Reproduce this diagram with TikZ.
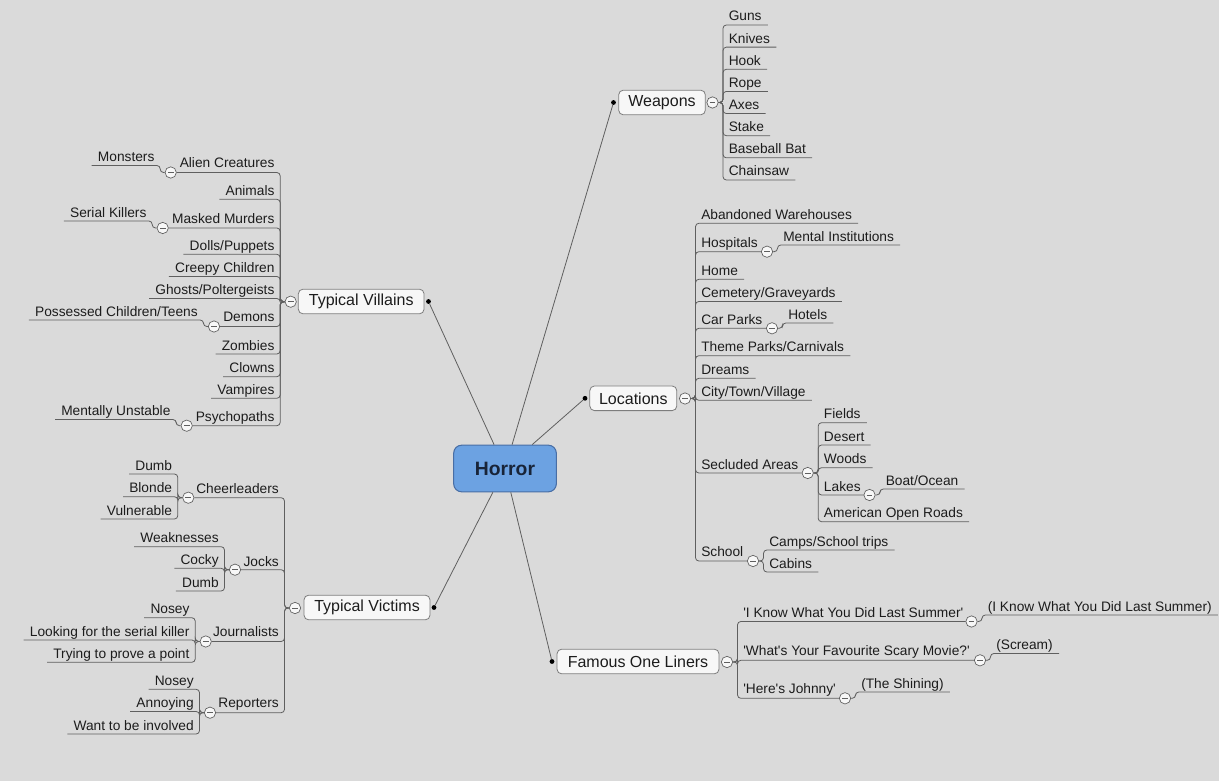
\documentclass[tikz,border=0pt]{standalone}
\usepackage{fontspec}
\newfontfamily\xmfont{Liberation Sans}
\usetikzlibrary{positioning}
\definecolor{paper}{RGB}{218,218,218}
\definecolor{ink}{RGB}{28,28,28}
\definecolor{wire}{RGB}{95,95,95}
\definecolor{boxfill}{RGB}{247,247,247}
\definecolor{boxline}{RGB}{125,125,125}
\definecolor{corefill}{RGB}{108,162,226}
\definecolor{coreline}{RGB}{72,110,165}
\definecolor{coretext}{RGB}{24,36,56}
\tikzset{
  core/.style={draw=coreline,fill=corefill,rounded corners=6pt,line width=0.8pt,minimum width=77pt,minimum height=35pt,font=\xmfont\bfseries\fontsize{14.5pt}{17pt}\selectfont,text=coretext},
  topic/.style={draw=boxline,fill=boxfill,rounded corners=3.5pt,line width=0.6pt,minimum height=18.5pt,inner sep=2pt,font=\xmfont\fontsize{12pt}{14pt}\selectfont,text=ink},
  leaf/.style={font=\xmfont\fontsize{10.3pt}{12pt}\selectfont,text=ink,inner xsep=4.5pt,inner ysep=0.6pt,text height=7.6pt,text depth=2.2pt},
  leafr/.style={leaf,anchor=south west},
  leafl/.style={leaf,anchor=south east},
  fold/.style={circle,draw=wire,fill=boxfill,line width=0.5pt,minimum size=8.5pt,inner sep=0pt,
    path picture={\draw[wire,line width=0.7pt] ([xshift=-2.2pt]path picture bounding box.center) -- ([xshift=2.2pt]path picture bounding box.center);}},
  dot/.style={circle,fill=black,minimum size=3.6pt,inner sep=0pt},
  spoke/.style={draw=wire,line width=0.6pt},
  br/.style={draw=wire,line width=0.6pt,rounded corners=2.5pt}
}

\begin{document}
\begin{tikzpicture}[x=0.75pt,y=-0.75pt]
\fill[paper] (0,0) rectangle (1219,781);
\useasboundingbox (0,0) rectangle (1219,781);

% centre
\node[core] (horror) at (505,468.5) {Horror};

% Weapons
\node[topic,minimum width=65pt] (weap) at (662,102.5) {Weapons};
\node[dot] (wd) at (613.5,102.5) {};
\node[fold] (wf) at (712.5,102.5) {};
\foreach \t [count=\i] in {Guns,Knives,Hook,Rope,Axes,Stake,Baseball Bat,Chainsaw}
  \node[leafr] (w\i) at (722.5,{2.86+22.14*\i}) {\t};
\foreach \i in {1,...,8} \draw[br] (wf.east) -- ++(4.5,0) |- (w\i.south east);

% Locations
\node[topic,minimum width=65.25pt] (loc) at (633.3,398.3) {Locations};
\node[dot] (ld) at (585,398.3) {};
\node[fold] (lf) at (685,398.5) {};
\node[leafr] (aband) at (695,223.3) {Abandoned Warehouses};
\node[leafr] (hosp) at (695,251.7) {Hospitals};
\node[fold] (hf) at (767,251.7) {};
\node[leafr] (mental) at (777,245) {Mental Institutions};
\node[leafr] (home) at (695,279.3) {Home};
\node[leafr] (cemet) at (695,301.5) {Cemetery/Graveyards};
\node[leafr] (carp) at (695,328.3) {Car Parks};
\node[fold] (cf) at (772,328.3) {};
\node[leafr] (hotel) at (782,323) {Hotels};
\node[leafr] (theme) at (695,355.7) {Theme Parks/Carnivals};
\node[leafr] (dream) at (695,378.3) {Dreams};
\node[leafr] (city) at (695,400.3) {City/Town/Village};
\node[leafr] (secl) at (695,473) {Secluded Areas};
\node[fold] (sf) at (807.7,473) {};
\node[leafr] (field) at (817.7,422.7) {Fields};
\node[leafr] (desert) at (817.7,445) {Desert};
\node[leafr] (woods) at (817.7,467.7) {Woods};
\node[leafr] (lakes) at (817.7,495) {Lakes};
\node[fold] (lkf) at (869.5,495) {};
\node[leafr] (boat) at (879.5,489) {Boat/Ocean};
\node[leafr] (roads) at (817.7,521.7) {American Open Roads};
\node[leafr] (school) at (695,560.3) {School};
\node[fold] (scf) at (753,561) {};
\node[leafr] (camps) at (763,550) {Camps/School trips};
\node[leafr] (cabin) at (763,572) {Cabins};
\foreach \n in {aband,home,cemet,theme,dream,city} \draw[br] (lf.east) -- ++(4.5,0) |- (\n.south east);
\foreach \n in {hf,cf,sf,scf} \draw[br] (lf.east) -- ++(4.5,0) |- (\n.west);
\draw[br] (hf.east) -- ++(4.5,0) |- (mental.south east);
\draw[br] (cf.east) -- ++(4.5,0) |- (hotel.south east);
\foreach \n in {field,desert,woods,roads} \draw[br] (sf.east) -- ++(4.5,0) |- (\n.south east);
\draw[br] (sf.east) -- ++(4.5,0) |- (lkf.west);
\draw[br] (lkf.east) -- ++(4.5,0) |- (boat.south east);
\foreach \n in {camps,cabin} \draw[br] (scf.east) -- ++(4.5,0) |- (\n.south east);

% Famous One Liners
\node[topic,minimum width=121.5pt] (fol) at (638,661.5) {Famous One Liners};
\node[dot] (fd) at (552,661.5) {};
\node[fold] (ff) at (727,662) {};
\node[leafr] (q1) at (737,621) {'I Know What You Did Last Summer'};
\node[fold] (q1f) at (971.5,621.5) {};
\node[leafr] (a1) at (981.5,615) {(I Know What You Did Last Summer)};
\node[leafr] (q2) at (737,659.5) {'What's Your Favourite Scary Movie?'};
\node[fold] (q2f) at (980,660.3) {};
\node[leafr] (a2) at (990,653.5) {(Scream)};
\node[leafr] (q3) at (737,697.5) {'Here's Johnny'};
\node[fold] (q3f) at (845,698.3) {};
\node[leafr] (a3) at (855,692) {(The Shining)};
\foreach \i in {1,2,3} {
  \draw[br] (ff.east) -- ++(4.5,0) |- (q\i f.west);
  \draw[br] (q\i f.east) -- ++(4.5,0) |- (a\i.south east);
}

% Typical Villains
\node[topic,minimum width=94.3pt] (vill) at (361.2,301.5) {Typical Villains};
\node[dot] (vd) at (428.5,301.5) {};
\node[fold] (vf) at (290.7,301.7) {};
\node[leafl] (alien) at (280.7,171.7) {Alien Creatures};
\node[fold] (acf) at (170.7,172.5) {};
\node[leafl] (monst) at (160.7,165.5) {Monsters};
\node[leafl] (anim) at (280.7,199.3) {Animals};
\node[leafl] (mask) at (280.7,227.3) {Masked Murders};
\node[fold] (mmf) at (162.7,228) {};
\node[leafl] (serial) at (152.7,221) {Serial Killers};
\node[leafl] (dolls) at (280.7,254.3) {Dolls/Puppets};
\node[leafl] (creepy) at (280.7,276.5) {Creepy Children};
\node[leafl] (ghost) at (280.7,298.5) {Ghosts/Poltergeists};
\node[leafl] (demon) at (280.7,325.7) {Demons};
\node[fold] (dmf) at (214,326.5) {};
\node[leafl] (possess) at (204,320) {Possessed Children/Teens};
\node[leafl] (zomb) at (280.7,354) {Zombies};
\node[leafl] (clown) at (280.7,376.7) {Clowns};
\node[leafl] (vamp) at (280.7,398.3) {Vampires};
\node[leafl] (psych) at (280.7,425) {Psychopaths};
\node[fold] (psf) at (186.7,425.7) {};
\node[leafl] (unstab) at (176.7,419.5) {Mentally Unstable};
\foreach \n in {anim,dolls,creepy,ghost,zomb,clown,vamp} \draw[br] (vf.west) -- ++(-4.5,0) |- (\n.south west);
\foreach \n in {acf,mmf,dmf,psf} \draw[br] (vf.west) -- ++(-4.5,0) |- (\n.east);
\draw[br] (acf.west) -- ++(-4.5,0) |- (monst.south west);
\draw[br] (mmf.west) -- ++(-4.5,0) |- (serial.south west);
\draw[br] (dmf.west) -- ++(-4.5,0) |- (possess.south west);
\draw[br] (psf.west) -- ++(-4.5,0) |- (unstab.south west);

% Typical Victims
\node[topic,minimum width=94.5pt] (vict) at (367,607.5) {Typical Victims};
\node[dot] (vtd) at (434,607.5) {};
\node[fold] (vtf) at (295,608) {};
\node[leafl] (cheer) at (285,497) {Cheerleaders};
\node[fold] (chf) at (188.3,497.7) {};
\node[leafl] (ch1) at (178.3,474) {Dumb};
\node[leafl] (ch2) at (178.3,496.7) {Blonde};
\node[leafl] (ch3) at (178.3,519) {Vulnerable};
\node[leafl] (jock) at (285,570) {Jocks};
\node[fold] (jkf) at (235,569.7) {};
\node[leafl] (jk1) at (225,546.7) {Weaknesses};
\node[leafl] (jk2) at (225,568.3) {Cocky};
\node[leafl] (jk3) at (225,591) {Dumb};
\node[leafl] (journ) at (285,640.7) {Journalists};
\node[fold] (jnf) at (205.7,641.5) {};
\node[leafl] (jn1) at (195.7,617.7) {Nosey};
\node[leafl] (jn2) at (195.7,640) {Looking for the serial killer};
\node[leafl] (jn3) at (195.7,662.3) {Trying to prove a point};
\node[leafl] (report) at (285,711.7) {Reporters};
\node[fold] (rpf) at (210,712.7) {};
\node[leafl] (rp1) at (200,689.3) {Nosey};
\node[leafl] (rp2) at (200,711.5) {Annoying};
\node[leafl] (rp3) at (200,734) {Want to be involved};
\foreach \n in {chf,jkf,jnf,rpf} \draw[br] (vtf.west) -- ++(-4.5,0) |- (\n.east);
\foreach \i in {1,2,3} {
  \draw[br] (chf.west) -- ++(-4.5,0) |- (ch\i.south west);
  \draw[br] (jkf.west) -- ++(-4.5,0) |- (jk\i.south west);
  \draw[br] (jnf.west) -- ++(-4.5,0) |- (jn\i.south west);
  \draw[br] (rpf.west) -- ++(-4.5,0) |- (rp\i.south west);
}

% spokes
\foreach \d in {wd,ld,fd,vd,vtd} \draw[spoke] (horror) -- (\d);
\end{tikzpicture}
\end{document}
